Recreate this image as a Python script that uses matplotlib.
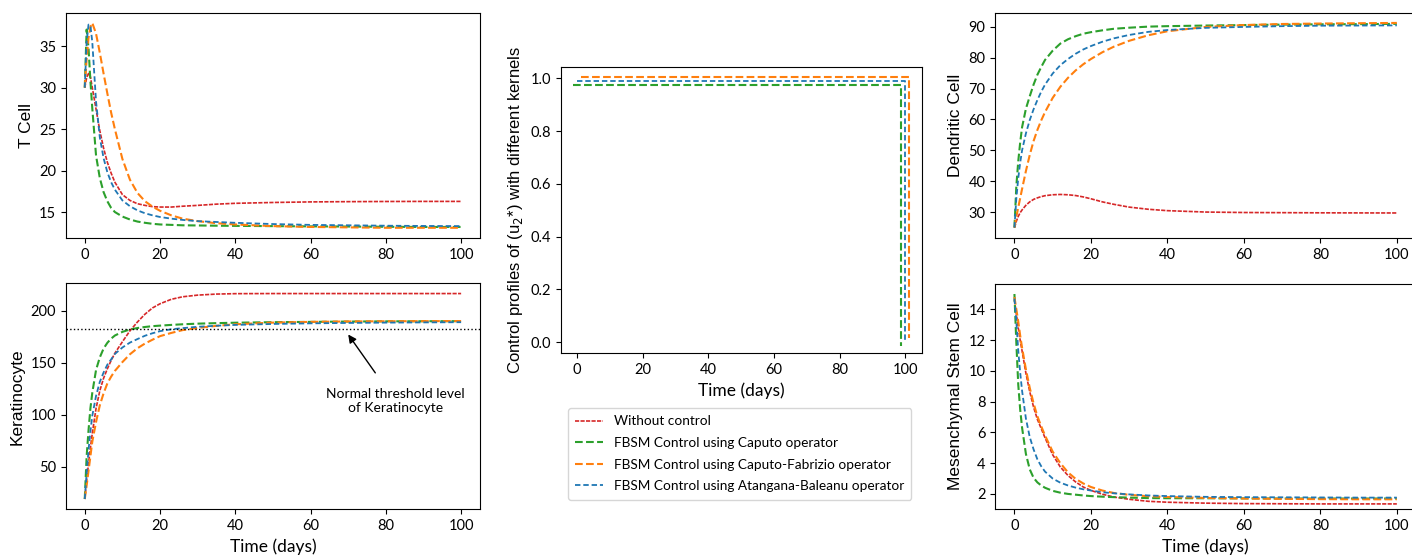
import matplotlib
matplotlib.use("Agg")
import matplotlib.pyplot as plt
from matplotlib.transforms import offset_copy

plt.rcParams["font.family"] = ["Lato", "DejaVu Sans"]

# sample times (days)
t = [0, 0.5, 1, 1.5, 2, 3, 4, 5, 6, 7, 8, 10, 12, 14, 16, 18, 20, 23, 26, 30,
     35, 40, 50, 60, 70, 80, 90, 100]

# T cell
tcell_none = [30.0, 31.2, 31.7, 31.3, 30.0, 27.4, 24.8, 22.7, 21.0, 19.7, 18.6, 17.1, 16.4,
              16.0, 15.8, 15.65, 15.6, 15.6, 15.7, 15.8, 15.95, 16.05, 16.15, 16.22, 16.25,
              16.27, 16.28, 16.28]
tcell_c = [30.0, 37.0, 34.8, 30.8, 27.5, 21.8, 19.1, 17.4, 16.3, 15.5, 15.0, 14.45, 14.1,
           13.85, 13.7, 13.58, 13.5, 13.45, 13.4, 13.38, 13.35, 13.33, 13.3, 13.27, 13.25,
           13.22, 13.2, 13.2]
tcell_cf = [30.0, 33.5, 36.0, 37.3, 37.8, 36.5, 34.2, 31.7, 29.3, 27.0, 25.0, 21.4, 18.9,
            17.3, 16.3, 15.65, 15.15, 14.6, 14.2, 13.9, 13.65, 13.5, 13.3, 13.2, 13.15, 13.1,
            13.1, 13.1]
tcell_ab = [30.0, 35.5, 37.6, 37.5, 35.5, 28.3, 24.0, 21.5, 19.8, 18.6, 17.7, 16.4, 15.7,
            15.2, 14.85, 14.6, 14.4, 14.2, 14.05, 13.9, 13.8, 13.7, 13.55, 13.45, 13.4,
            13.35, 13.32, 13.3]

# Keratinocyte
kera_none = [19, 37, 53, 68, 82, 106, 123, 135, 144, 152, 159, 170, 180.5, 189, 196.5, 202.5,
             206.5, 210.8, 213.2, 214.8, 215.8, 216.2, 216.3, 216.3, 216.3, 216.3, 216.3, 216.3]
kera_c = [19, 60, 85, 106, 121, 143, 155, 163.5, 169, 173, 176, 179.5, 181.8, 183.2, 184.2,
          185, 185.5, 186.2, 186.8, 187.4, 187.9, 188.3, 188.8, 189.1, 189.4, 189.6, 189.7,
          189.8]
kera_cf = [19, 32, 46, 60, 74, 93, 109, 120.5, 130, 136.5, 142, 150.5, 158, 163.8, 168.3,
           172, 175.4, 178.5, 181.2, 183.3, 185.3, 186.8, 188.4, 189.1, 189.5, 189.7, 189.8,
           189.9]
kera_ab = [19, 44, 66, 84, 99, 118, 131.5, 140.5, 148, 153, 158.3, 164.5, 169.2, 172.6,
           175.8, 178.2, 180.2, 182, 183.1, 184.4, 185.4, 186.2, 187.1, 187.7, 188.1, 188.4,
           188.6, 188.8]
kera_threshold = 182.5

# Dendritic cell
dc_none = [24.9, 27.0, 28.6, 29.8, 30.7, 32.2, 33.3, 34.1, 34.6, 35.0, 35.3, 35.6, 35.7,
           35.6, 35.35, 34.9, 34.3, 33.3, 32.5, 31.6, 30.9, 30.45, 30.0, 29.85, 29.8, 29.75,
           29.72, 29.7]
dc_c = [25.0, 38.5, 46.5, 52.5, 57.5, 63.5, 67.5, 71.3, 74.5, 77.0, 79.3, 82.3, 84.6, 86.0,
        87.0, 87.8, 88.3, 88.9, 89.4, 89.75, 90.1, 90.25, 90.45, 90.6, 90.75, 90.85, 90.9,
        91.0]
dc_cf = [25.0, 28.5, 31.5, 34.5, 37.5, 43.3, 48.5, 53.0, 56.6, 59.7, 62.4, 67.0, 70.6, 73.5,
         75.9, 77.9, 79.6, 81.8, 83.6, 85.5, 87.3, 88.6, 90.0, 90.6, 90.95, 91.1, 91.2, 91.3]
dc_ab = [25.0, 34.5, 41.0, 46.0, 50.0, 55.5, 59.8, 63.3, 66.3, 69.0, 71.3, 74.9, 77.6, 79.6,
         81.3, 82.7, 83.8, 85.2, 86.3, 87.4, 88.4, 89.0, 89.7, 90.0, 90.25, 90.4, 90.45,
         90.5]

# Mesenchymal stem cell
msc_none = [14.6, 13.7, 12.8, 12.0, 11.3, 9.85, 8.65, 7.65, 6.85, 6.25, 5.65, 4.55, 3.75,
            3.2, 2.78, 2.45, 2.23, 1.98, 1.8, 1.65, 1.52, 1.46, 1.4, 1.37, 1.36, 1.35, 1.35,
            1.35]
msc_c = [15.0, 11.8, 9.1, 7.5, 6.3, 4.6, 3.6, 3.05, 2.75, 2.55, 2.4, 2.2, 2.08, 2.0, 1.95,
         1.9, 1.86, 1.82, 1.79, 1.76, 1.73, 1.72, 1.72, 1.71, 1.7, 1.7, 1.7, 1.7]
msc_cf = [14.8, 14.0, 13.2, 12.3, 11.5, 10.1, 8.9, 7.9, 7.05, 6.4, 5.8, 4.75, 4.0, 3.4,
          2.98, 2.68, 2.45, 2.22, 2.06, 1.94, 1.85, 1.8, 1.74, 1.7, 1.68, 1.66, 1.65, 1.65]
msc_ab = [14.7, 13.2, 11.3, 9.9, 8.7, 6.9, 5.7, 4.9, 4.25, 3.8, 3.45, 3.0, 2.73, 2.55, 2.41,
          2.3, 2.22, 2.11, 2.04, 1.97, 1.9, 1.86, 1.81, 1.79, 1.78, 1.77, 1.76, 1.76]

# control profile u2*
t_ctrl = [0, 100, 100]
u2_ctrl = [0.99, 0.99, 0.0]

labels = ["Without control",
          "FBSM Control using Caputo operator",
          "FBSM Control using Caputo-Fabrizio operator",
          "FBSM Control using Atangana-Baleanu operator"]

styles = {
    "none": dict(color="#d62728", lw=1.2, ls=(0, (2.5, 0.8))),
    "c": dict(color="#2ca02c", lw=1.5, ls="--"),
    "cf": dict(color="#ff7f0e", lw=1.5, ls="--"),
    "ab": dict(color="#1f77b4", lw=1.3, ls=(0, (3, 1.6))),
}

ylab_font = dict(family=["Liberation Sans", "DejaVu Sans"], size=12.5)
xlab_font = dict(size=12.5)

fig = plt.figure(figsize=(14.12, 5.56), dpi=100)
ax_t = fig.add_axes([0.0467, 0.5719, 0.2932, 0.4053])
ax_k = fig.add_axes([0.0467, 0.0840, 0.2932, 0.4065])
ax_u = fig.add_axes([0.3971, 0.3646, 0.2557, 0.5144])
ax_d = fig.add_axes([0.7049, 0.5719, 0.2979, 0.4053])
ax_m = fig.add_axes([0.7049, 0.0840, 0.2979, 0.4052])


def draw(ax, none, c, cf, ab):
    handles = []
    for key, y in (("none", none), ("c", c), ("cf", cf), ("ab", ab)):
        (h,) = ax.plot(t, y, **styles[key])
        handles.append(h)
    return handles


handles = draw(ax_t, tcell_none, tcell_c, tcell_cf, tcell_ab)
draw(ax_k, kera_none, kera_c, kera_cf, kera_ab)
draw(ax_d, dc_none, dc_c, dc_cf, dc_ab)
draw(ax_m, msc_none, msc_c, msc_cf, msc_ab)

ax_k.axhline(kera_threshold, color="black", ls=":", lw=1)
ax_k.annotate("Normal threshold level\nof Keratinocyte", xy=(70, 177), xytext=(82.5, 113),
              ha="center", va="center", fontsize=10,
              arrowprops=dict(arrowstyle="-|>", color="black", lw=1, mutation_scale=12,
                              shrinkA=11, shrinkB=0))

# control profiles, nudged apart so they do not overlap
ax_u.plot(t_ctrl, u2_ctrl, transform=offset_copy(ax_u.transData, fig=fig, x=-4, y=-4,
                                                 units="dots"), **styles["c"])
ax_u.plot(t_ctrl, u2_ctrl, transform=offset_copy(ax_u.transData, fig=fig, x=4, y=4,
                                                 units="dots"), **styles["cf"])
ax_u.plot(t_ctrl, u2_ctrl, **styles["ab"])
ax_u.set_xlim(-5, 105)
ax_u.set_ylim(-0.042, 1.042)

ax_m.set_ylim(1.0, 15.65)

ax_t.set_ylabel("T Cell", **ylab_font)
ax_k.set_ylabel("Keratinocyte", **ylab_font)
ax_d.set_ylabel("Dendritic Cell", **ylab_font)
ax_m.set_ylabel("Mesenchymal Stem Cell", **ylab_font)
ax_u.set_ylabel("Control profiles of (u$_2$*) with different kernels",
                family=["Liberation Sans", "DejaVu Sans"], size=12)
for ax in (ax_k, ax_u, ax_m):
    ax.set_xlabel("Time (days)", **xlab_font)

for ax in (ax_t, ax_k, ax_u, ax_d, ax_m):
    ax.set_xticks([0, 20, 40, 60, 80, 100])
    ax.tick_params(labelsize=10.5)
ax_u.set_yticks([0.0, 0.2, 0.4, 0.6, 0.8, 1.0])
ax_d.set_yticks([30, 40, 50, 60, 70, 80, 90])
ax_m.set_yticks([2, 4, 6, 8, 10, 12, 14])

fig.legend(handles, labels, loc="upper center", bbox_to_anchor=(0.5238, 1 - 408 / 556),
           borderaxespad=0, fontsize=9.8, handlelength=2.0, borderpad=0.55,
           labelspacing=0.7)

fig.savefig("out.png", dpi=100)
